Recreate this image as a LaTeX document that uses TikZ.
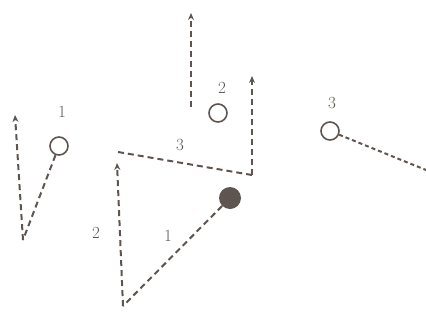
\documentclass[tikz,border=0pt]{standalone}
\usetikzlibrary{arrows.meta}
\definecolor{ink}{RGB}{95,85,80}
\begin{document}
\begin{tikzpicture}[x=1pt,y=-1pt,
  path/.style={draw=ink, line width=2pt, dash pattern=on 6pt off 4pt},
  dotpath/.style={draw=ink, line width=2pt, dash pattern=on 4pt off 3pt},
  arr/.style={-{Stealth[length=7pt,width=6pt]}},
  ball/.style={circle, draw=ink, line width=1.6pt, minimum size=18pt, inner sep=0pt},
  fball/.style={circle, fill=ink, minimum size=22pt, inner sep=0pt},
  lbl/.style={text=ink, font=\fontsize{17}{17}\selectfont, inner sep=1pt}]
\useasboundingbox (0,0) rectangle (426,322);
% left group
\node[ball] (c1) at (59,146) {};
\node[lbl] (l1) at (62,112) {1};
\coordinate (v1) at (23,240);
\coordinate (t1) at (15,115);
\draw[path] (c1) -- (v1);
\draw[path,arr] (v1) -- (t1);
% middle group
\node[ball] (c2) at (218,113) {};
\node[lbl] (l2) at (222,88) {2};
\coordinate (a0) at (191,107);
\coordinate (a1) at (191,13);
\draw[path,arr] (a0) -- (a1);
\coordinate (p) at (252,175);
\coordinate (pt) at (252,76);
\coordinate (q) at (118,152);
\draw[path,arr] (p) -- (pt);
\draw[path] (q) -- (p);
\node[lbl] (l3) at (180,145) {3};
\node[fball] (fb) at (230,198) {};
\coordinate (v2) at (123,306);
\coordinate (t2) at (117,163);
\draw[path] (fb) -- (v2);
\draw[path,arr] (v2) -- (t2);
\node[lbl] (n1) at (168,236) {1};
\node[lbl] (n2) at (96,233) {2};
% right group
\node[ball] (c3) at (330,131) {};
\node[lbl] (l4) at (332,103) {3};
\coordinate (e3) at (426,170);
\draw[dotpath] (c3) -- (e3);
\end{tikzpicture}
\end{document}
